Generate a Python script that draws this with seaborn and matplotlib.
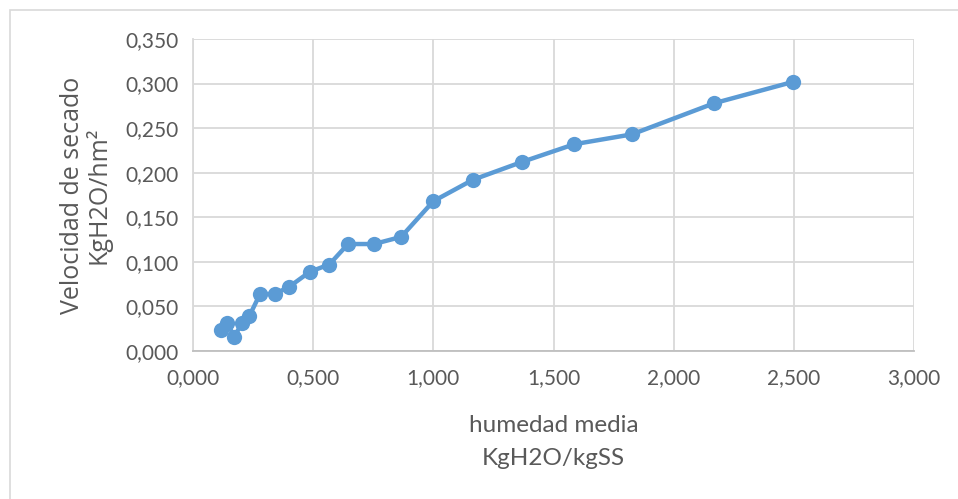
import matplotlib
matplotlib.use("Agg")
import matplotlib.pyplot as plt
import matplotlib.patches as mpatches
import seaborn as sns
import pandas as pd
from matplotlib.ticker import FuncFormatter, MultipleLocator

# Drying-rate curve data
humedad_media = [0.115, 0.143, 0.172, 0.203, 0.234, 0.279, 0.340, 0.400, 0.487, 0.567,
                 0.645, 0.753, 0.866, 1.000, 1.164, 1.368, 1.587, 1.826, 2.169, 2.498]
velocidad_secado = [0.024, 0.031, 0.016, 0.031, 0.039, 0.064, 0.064, 0.072, 0.089, 0.097,
                    0.120, 0.120, 0.128, 0.168, 0.192, 0.212, 0.232, 0.243, 0.278, 0.302]

x_label_lines = ["humedad media", "KgH2O/kgSS"]
y_label_lines = ["Velocidad de secado", "KgH2O/hm²"]

df = pd.DataFrame({"x": humedad_media, "y": velocidad_secado})

sns.set_theme(style="white")
plt.rcParams["font.family"] = ["Lato", "DejaVu Sans"]

TEXT = "#595959"
GRID = "#d9d9d9"
BLUE = "#5b9bd5"

fig = plt.figure(figsize=(9.58, 4.99), dpi=100)
W, H = 958, 499
ax = fig.add_axes([193 / W, 1 - 351 / H, (914 - 193) / W, (351 - 39) / H])

# outer chart frame
fig.patches.append(mpatches.Rectangle((10 / W, -0.1), 1.2, 1 - 10 / H + 0.1,
                                      transform=fig.transFigure, fill=False,
                                      edgecolor=GRID, linewidth=1.2))

sns.lineplot(data=df, x="x", y="y", ax=ax, color=BLUE, linewidth=3.2,
             marker="o", markersize=11, markeredgewidth=0, sort=False)

ax.set_xlim(0, 3.0)
ax.set_ylim(0, 0.35)
ax.xaxis.set_major_locator(MultipleLocator(0.5))
ax.yaxis.set_major_locator(MultipleLocator(0.05))
fmt = FuncFormatter(lambda v, p: f"{v:.3f}".replace(".", ","))
ax.xaxis.set_major_formatter(fmt)
ax.yaxis.set_major_formatter(fmt)

ax.grid(True, color=GRID, linewidth=1.3)
ax.set_axisbelow(True)
for side in ["top", "right"]:
    ax.spines[side].set_visible(False)
ax.spines["left"].set_color(GRID)
ax.spines["bottom"].set_color("#bfbfbf")
ax.spines["left"].set_linewidth(1.3)
ax.spines["bottom"].set_linewidth(1.3)

ax.tick_params(axis="both", length=0, labelsize=15, labelcolor=TEXT)
ax.tick_params(axis="x", pad=12)
ax.tick_params(axis="y", pad=10)

ax.set_xlabel("\n".join(x_label_lines), fontsize=17.5, color=TEXT, labelpad=20,
              linespacing=1.7)
ax.set_ylabel("\n".join(y_label_lines), fontsize=18, color=TEXT, labelpad=10,
              linespacing=1.0, family=["Open Sans", "DejaVu Sans"])

fig.savefig("out.png", dpi=100)
